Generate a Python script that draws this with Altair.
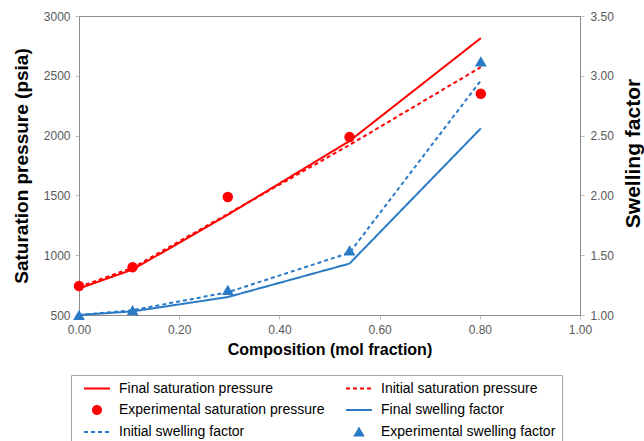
import altair as alt
import pandas as pd

# ---- data ----
composition = [0.0, 0.107, 0.297, 0.54, 0.802]
final_sat = [722, 880, 1338, 1955, 2815]
initial_sat = [735, 895, 1345, 1922, 2572]
exp_sat = [742, 900, 1487, 1988, 2350]
final_swell = [1.00, 1.03, 1.15, 1.43, 2.56]
initial_swell = [1.00, 1.04, 1.19, 1.52, 2.96]
exp_swell = [1.00, 1.04, 1.21, 1.54, 3.12]

series_order = [
    "Final saturation pressure",
    "Initial saturation pressure",
    "Experimental saturation pressure",
    "Final swelling factor",
    "Initial swelling factor",
    "Experimental swelling factor",
]
RED = "#ff0000"
BLUE = "#2a7ac6"
colors = [RED, RED, RED, BLUE, BLUE, BLUE]
dashes = [[1, 0], [4, 3], [1, 0], [1, 0], [4, 3], [1, 0]]
LINE_SYMBOL = "M-3.25,0H3.25"
shapes = [LINE_SYMBOL, LINE_SYMBOL, "circle", LINE_SYMBOL, LINE_SYMBOL, "triangle-up"]

rows = []
for name, vals in zip(series_order, [final_sat, initial_sat, exp_sat, final_swell, initial_swell, exp_swell]):
    for xv, yv in zip(composition, vals):
        rows.append({"series": name, "x": xv, "value": yv})
df = pd.DataFrame(rows)

FONT = "Liberation Sans"

legend = alt.Legend(
    title=None, orient="none", legendX=-8, legendY=359, columns=2,
    direction="horizontal",
    gridAlign="all", columnPadding=14, rowPadding=6, padding=6,
    symbolSize=64, symbolOffset=13, labelOffset=15, symbolStrokeWidth=2,
    labelFont=FONT, labelFontSize=14, labelColor="#000000", labelLimit=400,
    strokeColor="#a6a6a6", fillColor="#ffffff", symbolOpacity=1,
)

color = alt.Color("series:N", scale=alt.Scale(domain=series_order, range=colors), legend=legend)
dash = alt.StrokeDash("series:N", scale=alt.Scale(domain=series_order, range=dashes), legend=legend)
shape = alt.Shape("series:N", scale=alt.Scale(domain=series_order, range=shapes), legend=legend)

x_enc = alt.X("x:Q", scale=alt.Scale(domain=[0, 1], nice=False),
              axis=alt.Axis(values=[0, 0.2, 0.4, 0.6, 0.8, 1.0], format=".2f",
                            title="Composition (mol fraction)", titlePadding=6,
                            titleFontSize=16, labelPadding=5, labelFlush=False))

left_axis = alt.Axis(values=[500, 1000, 1500, 2000, 2500, 3000], format="d",
                     title="Saturation pressure (psia)", titleFontSize=19,
                     titlePadding=12, labelPadding=5, labelFlush=False)
right_axis = alt.Axis(values=[1.0, 1.5, 2.0, 2.5, 3.0, 3.5], format=".2f", orient="right",
                      title="Swelling factor", titleAngle=270, titleFontSize=21,
                      titlePadding=30, titleY=137, labelPadding=6, labelFlush=False)

y_left = alt.Y("value:Q", scale=alt.Scale(domain=[500, 3000], nice=False, zero=False), axis=left_axis)
y_right = alt.Y("value:Q", scale=alt.Scale(domain=[1.0, 3.5], nice=False, zero=False), axis=right_axis)

base = alt.Chart(df)

left_lines = base.transform_filter(
    alt.FieldOneOfPredicate(field="series", oneOf=series_order[0:2])
).mark_line(strokeWidth=2).encode(x=x_enc, y=y_left, color=color, strokeDash=dash)
left_points = base.transform_filter(
    alt.FieldEqualPredicate(field="series", equal=series_order[2])
).mark_point(filled=True, opacity=1, size=110).encode(x=x_enc, y=y_left, color=color, shape=shape)

right_lines = base.transform_filter(
    alt.FieldOneOfPredicate(field="series", oneOf=series_order[3:5])
).mark_line(strokeWidth=2).encode(x=x_enc, y=y_right, color=color, strokeDash=dash)
right_points = base.transform_filter(
    alt.FieldEqualPredicate(field="series", equal=series_order[5])
).mark_point(filled=True, opacity=1, size=140).encode(x=x_enc, y=y_right, color=color, shape=shape)

left = alt.layer(left_lines, left_points)
right = alt.layer(right_lines, right_points)

chart = alt.layer(left, right).resolve_scale(y="independent").properties(
    width=501, height=299,
    autosize=alt.AutoSizeParams(type="none"),
    padding={"left": 79, "top": 16, "right": 64, "bottom": 126},
    background="#ffffff",
).configure_view(
    stroke="#8c8c8c", strokeWidth=1
).configure_axis(
    grid=False, labelFont=FONT, labelFontSize=12, labelColor="#595959",
    titleFont=FONT, titleFontWeight="bold", titleColor="#000000",
    domainColor="#8c8c8c", tickColor="#bfbfbf", tickSize=4,
)

chart.save("out.html", embed_options={"renderer": "svg", "actions": False})
